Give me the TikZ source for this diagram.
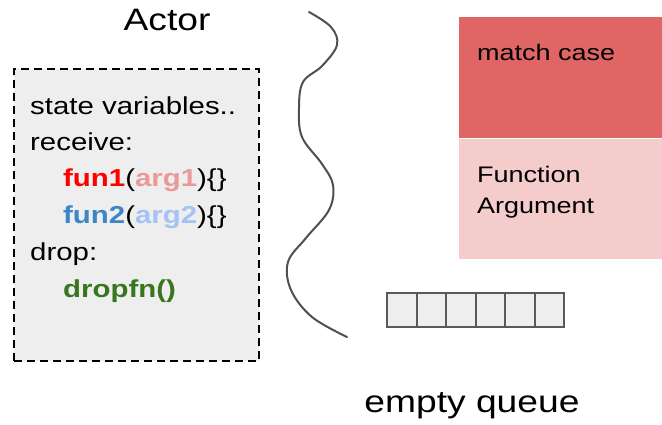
\documentclass[tikz,border=0pt]{standalone}
\usepackage{fontspec}
\setmainfont[FakeStretch=1.2]{Liberation Sans}
\definecolor{boxgray}{HTML}{EEEEEE}
\definecolor{linegray}{HTML}{595959}
\definecolor{wavegray}{HTML}{505050}
\definecolor{matchred}{HTML}{E06666}
\definecolor{argpink}{HTML}{F4CCCC}
\definecolor{funred}{HTML}{FF0000}
\definecolor{argred}{HTML}{EA9999}
\definecolor{funblue}{HTML}{3D85C6}
\definecolor{argblue}{HTML}{A4C2F4}
\definecolor{dropgreen}{HTML}{38761D}
\begin{document}
\begin{tikzpicture}[x=1pt,y=-1pt,
  txt/.style={anchor=base west,inner sep=0pt,font=\fontsize{24.5}{29}\selectfont},
  rtxt/.style={anchor=base west,inner sep=0pt,font=\fontsize{22.5}{27}\selectfont},
  big/.style={anchor=base,inner sep=0pt,font=\fontsize{31}{36}\selectfont},
  cell/.style={draw=linegray,line width=2pt,fill=boxgray,minimum width=29.5pt,minimum height=34pt,inner sep=0pt,anchor=north west}]
\useasboundingbox (0,0) rectangle (662,425);
\fill[white] (0,0) rectangle (662,425);
% actor box
\node[draw=black,dash pattern=on 8pt off 5pt,line width=1.8pt,fill=boxgray,minimum width=245pt,minimum height=292pt,anchor=north west,inner sep=0pt] (actorbox) at (13,68) {};
\node[txt] (l1) at (30,115) {state variables..};
\node[txt] (l2) at (30,151) {receive:};
\node[txt] (l3) at (63,187) {\textbf{\color{funred}fun1}(\textbf{\color{argred}arg1})\{\}};
\node[txt] (l4) at (63,223) {\textbf{\color{funblue}fun2}(\textbf{\color{argblue}arg2})\{\}};
\node[txt] (l5) at (30,260) {drop:};
\node[txt] (l6) at (63,297) {\textbf{\color{dropgreen}dropfn()}};
\node[big] (actor) at (167,31) {Actor};
% wavy line
\draw[wavegray,line width=2pt,line cap=round] plot[smooth,tension=0.6] coordinates {(309,12) (331,27) (337,45) (322,66) (303,82) (299,108) (302,137) (322,164) (333,185) (329,210) (306,238) (288,262) (291,290) (312,317) (347,337)};
% right boxes
\fill[matchred] (459,17) rectangle (662,138);
\fill[argpink] (459,139) rectangle (662,259);
\node[rtxt] (mc) at (477,61) {match case};
\node[rtxt] (fa1) at (477,183) {Function};
\node[rtxt] (fa2) at (477,214) {Argument};
% queue
\foreach \i in {0,...,5} {
  \node[cell] (q\i) at (386+29.5*\i,292) {};
}
\node[big] (eq) at (472,412) {empty queue};
\end{tikzpicture}
\end{document}
